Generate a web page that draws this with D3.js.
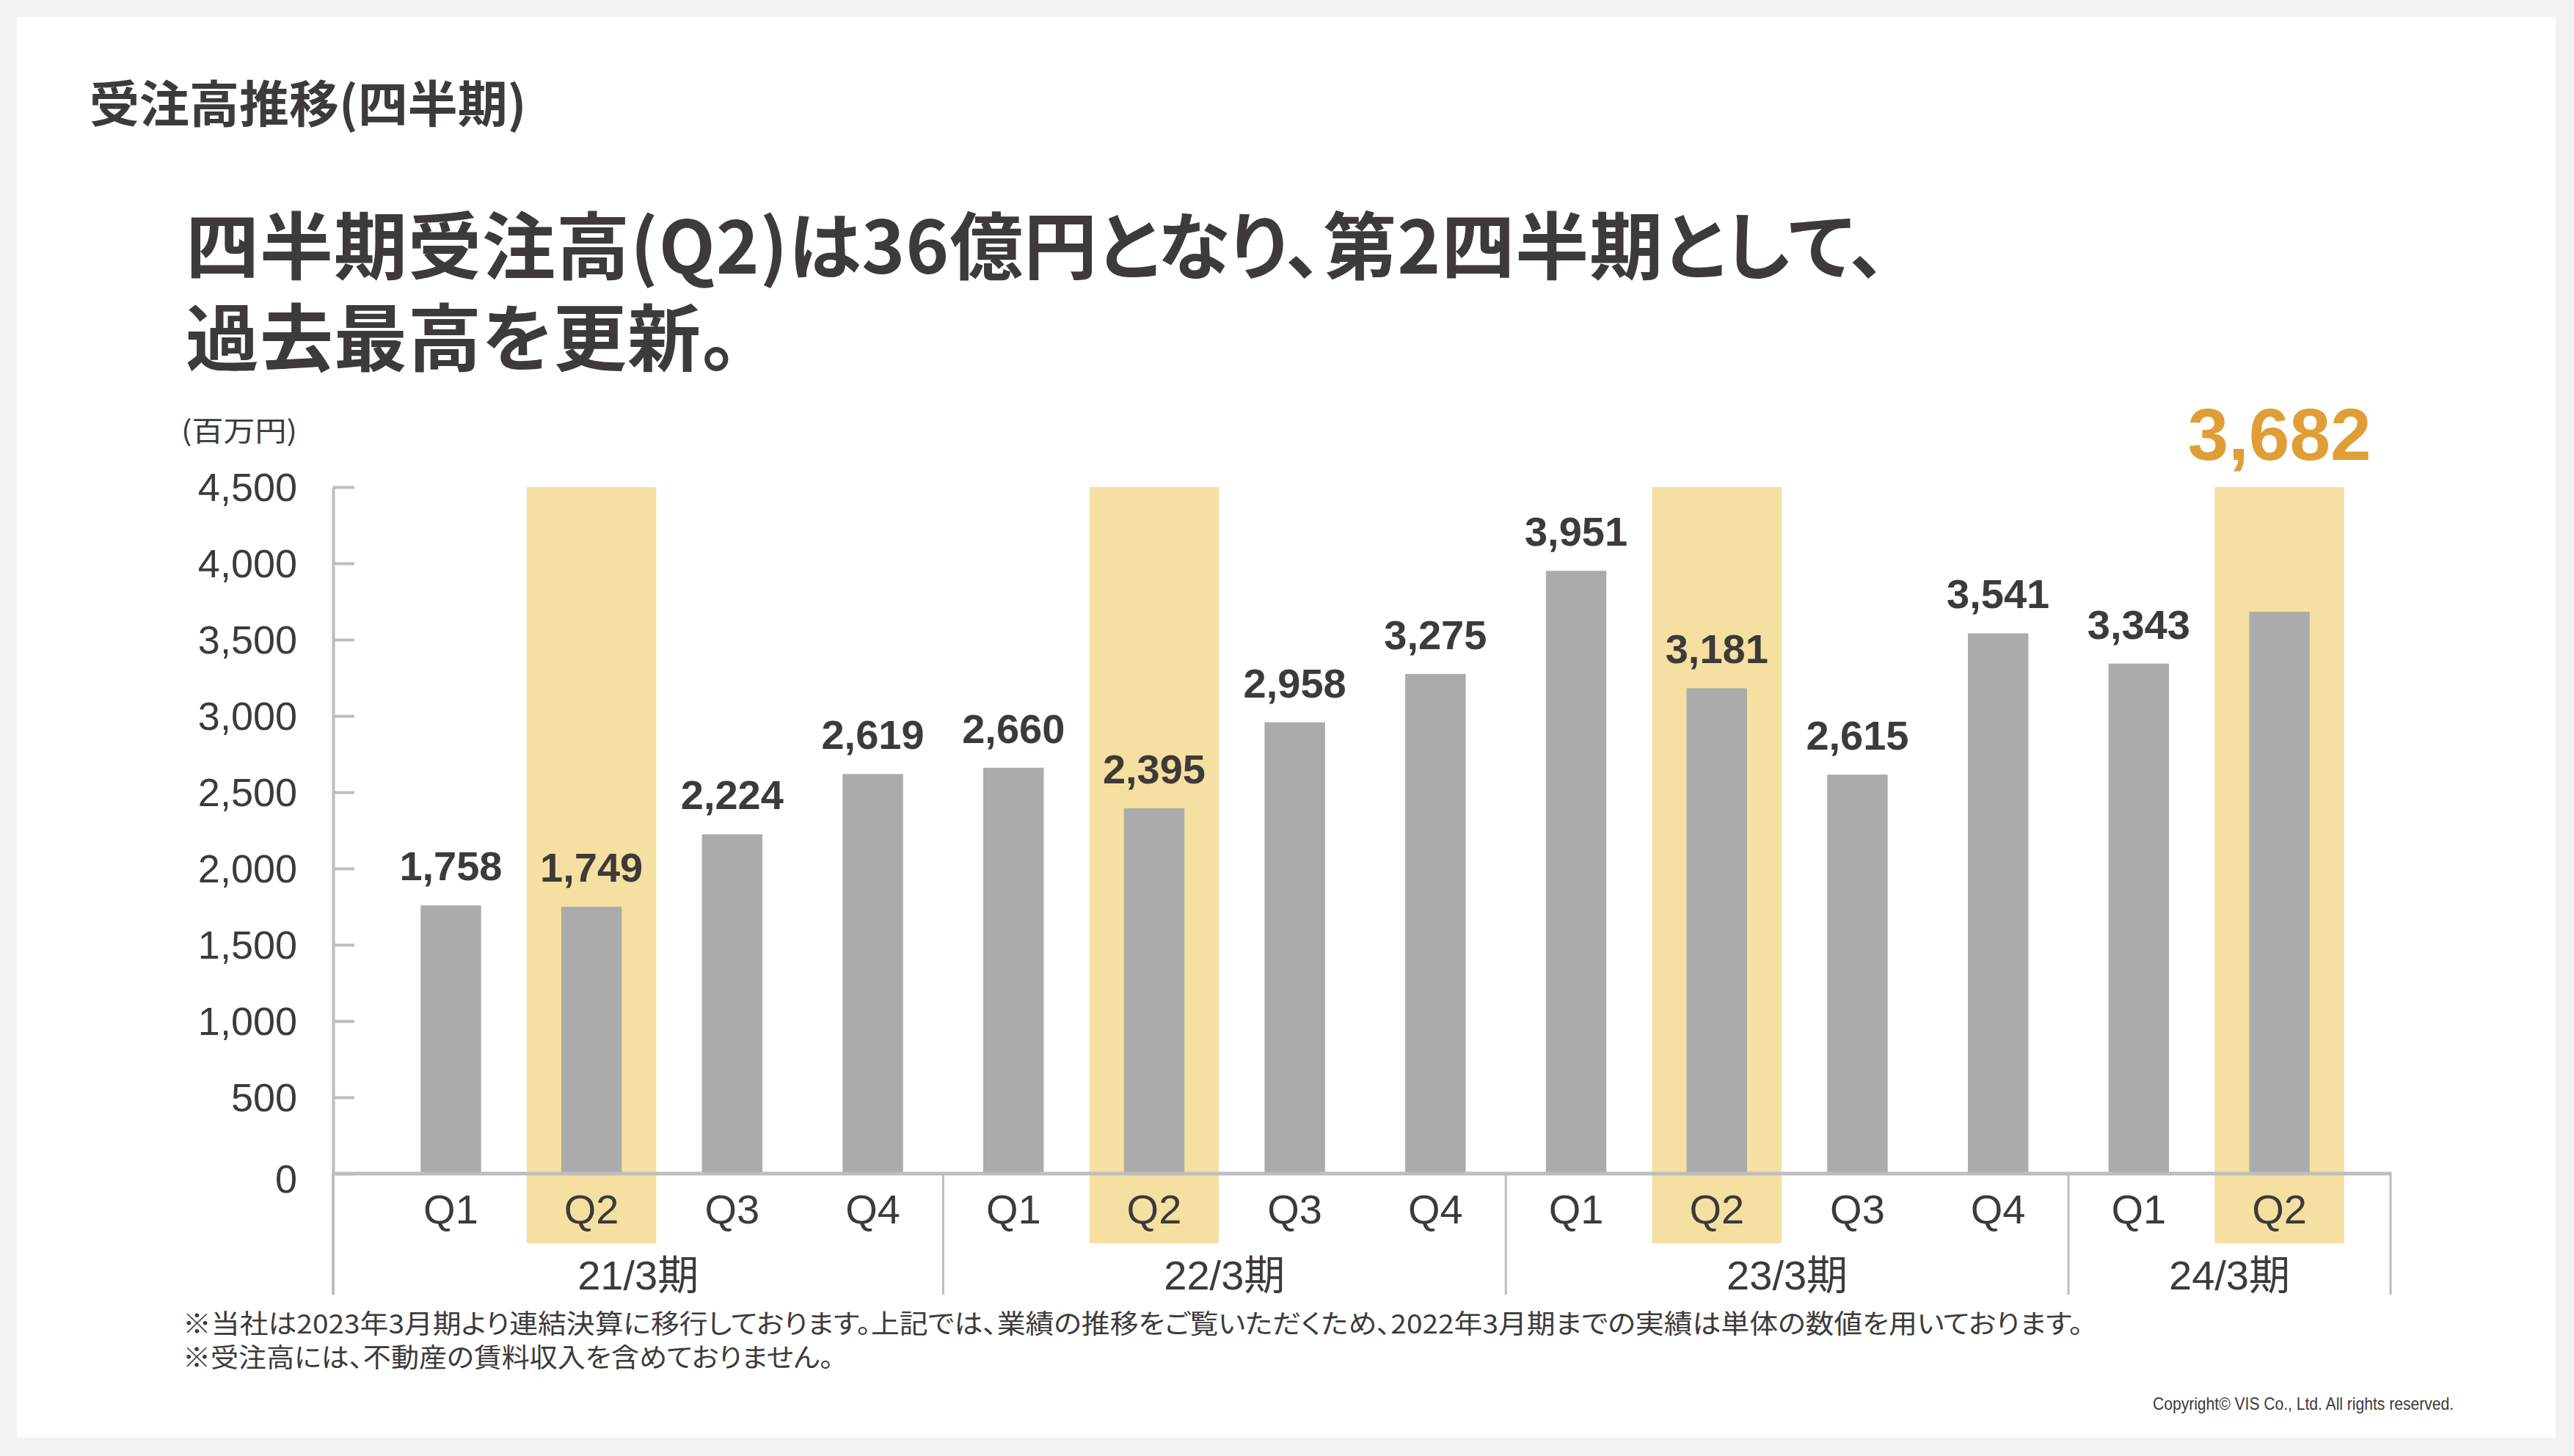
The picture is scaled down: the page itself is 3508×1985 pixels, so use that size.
<!DOCTYPE html>
<html>
<head>
<meta charset="utf-8">
<script src="https://cdn.jsdelivr.net/npm/d3@7"></script>
<style>
  html, body { margin: 0; padding: 0; background: #f2f2f2; overflow: hidden; }
  svg { display: block; }
  .headline, .note { font-feature-settings: "palt"; }
</style>
</head>
<body>
<div id="vis"></div>
<script>
// chart data
var periods = ["21/3期", "22/3期", "23/3期", "24/3期"];
var periodQuarters = [4, 4, 4, 2];
var quarterLabels = ["Q1", "Q2", "Q3", "Q4", "Q1", "Q2", "Q3", "Q4", "Q1", "Q2", "Q3", "Q4", "Q1", "Q2"];
var orderValues = [1758, 1749, 2224, 2619, 2660, 2395, 2958, 3275, 3951, 3181, 2615, 3541, 3343, 3682];
var yTicks = [0, 500, 1000, 1500, 2000, 2500, 3000, 3500, 4000, 4500];

var titleText = "受注高推移(四半期)";
var headline = ["四半期受注高(Q2)は36億円となり、第2四半期として、", "過去最高を更新。"];
var unitText = "(百万円)";
var notes = [
  "※当社は2023年3月期より連結決算に移行しております。上記では、業績の推移をご覧いただくため、2022年3月期までの実績は単体の数値を用いております。",
  "※受注高には、不動産の賃料収入を含めておりません。"
];
var copyright = "Copyright© VIS Co., Ltd. All rights reserved.";

/* Setup */
var width = 3508, height = 1985;
var jp = "'Noto Sans CJK JP', 'Noto Sans', sans-serif",
    num = "'Liberation Sans', Arial, 'Noto Sans CJK JP', sans-serif";
var textColor = "#3e3a39",
    barColor = "#aaabaa",
    hiColor = "#f5e0a2",
    lineColor = "#bdbdbd",
    accent = "#e09e37";

var svg = d3.select("#vis").append("svg")
    .attr("width", width)
    .attr("height", height);

// white card on the grey slide
svg.append("rect")
    .attr("x", 23).attr("y", 23)
    .attr("width", 3460).attr("height", 1937)
    .attr("fill", "#fff");

// heading and message
svg.append("text")
    .attr("x", 122).attr("y", 167)
    .attr("font-family", jp).attr("font-weight", 700)
    .attr("font-size", 68).attr("fill", textColor)
    .text(titleText);

// two-line message in one text element
svg.append("text")
    .attr("class", "headline")
    .attr("y", 373)
    .attr("font-family", jp).attr("font-weight", 700)
    .attr("font-size", 100).attr("fill", textColor)
    .attr("letter-spacing", 1)
  .selectAll("tspan")
  .data(headline)
  .enter().append("tspan")
    .attr("x", 253)
    .attr("dy", function(d, i) { return i === 0 ? 0 : 125; })
    .text(function(d) { return d; });

svg.append("text")
    .attr("x", 247).attr("y", 601)
    .attr("font-family", jp).attr("font-size", 38)
    .attr("fill", textColor)
    .attr("textLength", 158)
    .attr("lengthAdjust", "spacingAndGlyphs")
    .text(unitText);

/* Scales */
var plotLeft = 454, plotRight = 3258,
    baseY = 1600, frameBottom = 1765;

var keys = d3.range(orderValues.length);

var x = d3.scaleBand().domain(keys).range([518.6, 3202.4]);
var y = d3.scaleLinear().domain([0, 4500]).range([baseY, 664]);

var step = x.step(),
    barW = step * 0.43,
    hiW = step * 0.92;

// highlighted Q2 columns (run down behind the quarter labels)
svg.selectAll(".hi")
  .data(keys.filter(function(i) { return quarterLabels[i] === "Q2"; }))
  .enter().append("rect")
    .attr("class", "hi")
    .attr("x", function(i) { return x(i) + (step - hiW) / 2; })
    .attr("y", y(4500))
    .attr("width", hiW)
    .attr("height", 1695 - y(4500))
    .attr("fill", hiColor);

// bars
svg.selectAll(".bar")
  .data(keys)
  .enter().append("rect")
    .attr("class", "bar")
    .attr("x", function(i) { return x(i) + (step - barW) / 2; })
    .attr("y", function(i) { return y(orderValues[i]); })
    .attr("width", barW)
    .attr("height", function(i) { return baseY - y(orderValues[i]); })
    .attr("fill", barColor);

// y axis
var yAxis = svg.append("g")
    .attr("transform", "translate(" + plotLeft + ",0)")
    .call(d3.axisLeft(y).tickValues(yTicks)
      .tickSizeInner(-29).tickSizeOuter(0).tickPadding(49)
      .tickFormat(d3.format(",")));
yAxis.select(".domain").attr("stroke", lineColor).attr("stroke-width", 4);
yAxis.selectAll(".tick line").attr("stroke", lineColor).attr("stroke-width", 4);
yAxis.selectAll(".tick text")
    .attr("font-family", num).attr("font-size", 54)
    .attr("fill", textColor)
    .attr("dy", function(d) { return d === 0 ? "0.48em" : "0.34em"; });

// quarter labels
var xAxis = svg.append("g")
    .attr("transform", "translate(0," + baseY + ")")
    .call(d3.axisBottom(x).tickSize(0).tickPadding(28)
      .tickFormat(function(i) { return quarterLabels[i]; }));
xAxis.select(".domain").remove();
xAxis.selectAll(".tick text")
    .attr("font-family", num).attr("font-size", 56)
    .attr("fill", textColor);

// fiscal year groups
var groups = [], start = 0;
periods.forEach(function(p, gi) {
  var first = start, last = start + periodQuarters[gi] - 1;
  groups.push({
    name: p,
    x0: gi === 0 ? plotLeft : x(first),
    x1: gi === periods.length - 1 ? plotRight : x(last) + step
  });
  start = last + 1;
});

var frameX = [plotLeft].concat(groups.map(function(g) { return g.x1; }));
svg.selectAll(".sep")
  .data(frameX)
  .enter().append("line")
    .attr("class", "sep")
    .attr("x1", function(d) { return d; })
    .attr("x2", function(d) { return d; })
    .attr("y1", baseY)
    .attr("y2", frameBottom)
    .attr("stroke", lineColor)
    .attr("stroke-width", function(d, i) { return i === 0 ? 4 : 3; });

// baseline
svg.append("line")
    .attr("x1", plotLeft - 2).attr("x2", plotRight + 1.5)
    .attr("y1", baseY).attr("y2", baseY)
    .attr("stroke", lineColor).attr("stroke-width", 5);

svg.selectAll(".group")
  .data(groups)
  .enter().append("text")
    .attr("class", "group")
    .attr("x", function(g) { return (g.x0 + g.x1) / 2; })
    .attr("y", 1758)
    .attr("text-anchor", "middle")
    .attr("font-family", num).attr("font-size", 56)
    .attr("fill", textColor)
    .text(function(g) { return g.name; });

// value labels, the latest quarter called out in orange above the column
var lastIdx = keys.length - 1;
svg.selectAll(".val")
  .data(keys)
  .enter().append("text")
    .attr("class", "val")
    .attr("x", function(i) { return x(i) + step / 2; })
    .attr("y", function(i) { return i === lastIdx ? y(4500) - 37 : y(orderValues[i]) - 34; })
    .attr("text-anchor", "middle")
    .attr("font-family", num).attr("font-weight", 700)
    .attr("font-size", function(i) { return i === lastIdx ? 100 : 56; })
    .attr("fill", function(i) { return i === lastIdx ? accent : textColor; })
    .text(function(i) { return d3.format(",")(orderValues[i]); });

// footnotes
svg.selectAll(".note")
  .data(notes)
  .enter().append("text")
    .attr("class", "note")
    .attr("x", 249)
    .attr("y", function(d, i) { return 1818 + i * 46; })
    .attr("font-family", jp).attr("font-size", 36)
    .attr("fill", textColor)
    .attr("textLength", function(d, i) { return i === 0 ? 2590 : 887; })
    .attr("lengthAdjust", "spacingAndGlyphs")
    .text(function(d) { return d; });

svg.append("text")
    .attr("x", 3344).attr("y", 1922)
    .attr("text-anchor", "end")
    .attr("font-family", num).attr("font-size", 24)
    .attr("fill", textColor)
    .attr("textLength", 410)
    .attr("lengthAdjust", "spacingAndGlyphs")
    .text(copyright);
</script>
</body>
</html>
